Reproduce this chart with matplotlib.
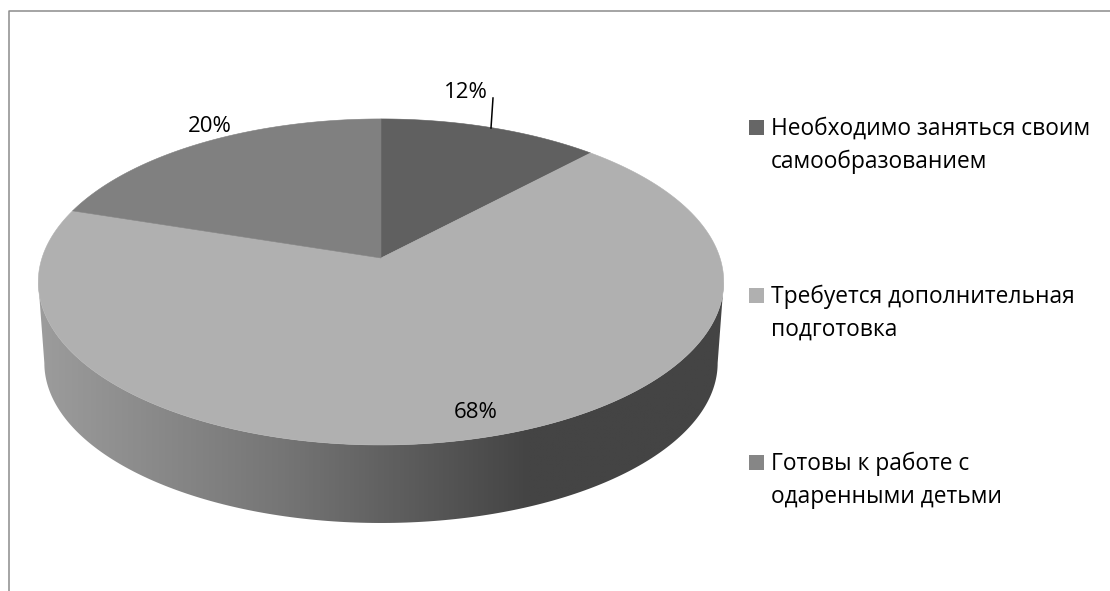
import numpy as np
import matplotlib
matplotlib.use("Agg")
import matplotlib.pyplot as plt
from matplotlib.patches import Polygon, Rectangle
from matplotlib.colors import LinearSegmentedColormap

categories = ["Необходимо заняться своим\nсамообразованием",
              "Требуется дополнительная\nподготовка",
              "Готовы к работе с\nодаренными детьми"]
values = [12, 68, 20]
labels = ["12%", "68%", "20%"]
colors = ["#606060", "#b0b0b0", "#808080"]
legend_colors = ["#666666", "#b0b0b0", "#868686"]

plt.rcParams["font.family"] = ["Open Sans", "DejaVu Sans"]
fig = plt.figure(figsize=(11.1, 5.91), dpi=100)
ax = fig.add_axes([0, 0, 1, 1])
ax.set_xlim(0, 1110)
ax.set_ylim(591, 0)
ax.axis("off")

K = 0.147
def project(theta, top=True, r=1.0):
    """Perspective view of a disc; theta clockwise from 12 o'clock."""
    u, v = r * np.sin(theta), r * np.cos(theta)
    w = 1 + K * v
    if top:
        return 381 + 339 * u / w, 258 - 159.5 * v / w
    return 381 + 333 * u / w, 339.4 - 156.6 * v / w

# side wall
t0 = np.arccos(-K)
front = np.linspace(t0, 2 * np.pi - t0, 200)
xb, yb = project(front, False)
xt, yt = project(front[::-1], True)
side = Polygon(np.r_[np.c_[xb, yb], np.c_[xt, yt]], closed=True, fc="none", ec="none")
ax.add_patch(side)
cmap = LinearSegmentedColormap.from_list(
    "side", [(0, "#9c9c9c"), (0.5, "#757575"), (1, "#444444")])
grad = np.clip((np.linspace(38, 724, 400) - 38) / (530 - 38), 0, 1)[None, :]
im = ax.imshow(grad, extent=(38, 724, 530, 280), aspect="auto", cmap=cmap,
               vmin=0, vmax=1, zorder=1, interpolation="bilinear")
im.set_clip_path(side)
ax.set_xlim(0, 1110)
ax.set_ylim(591, 0)

# top face
edges = np.cumsum([0] + values) / sum(values) * 2 * np.pi
for a, b, c in zip(edges[:-1], edges[1:], colors):
    th = np.linspace(a, b, 200)
    x, y = project(th)
    cx, cy = project(0.0, r=0.0)
    ax.add_patch(Polygon(np.r_[[[cx, cy]], np.c_[x, y]], closed=True,
                         fc=c, ec=c, lw=0.4, zorder=2))

# data labels
for s, px, py in zip(labels, (466, 476, 210), (98, 418, 132)):
    ax.text(px, py, s, ha="center", va="baseline", fontsize=16, color="black", zorder=3)
ax.plot([493, 491], [98, 128], color="black", lw=1.1, zorder=3)

# legend
for cat, c, py in zip(categories, legend_colors, (135, 303, 470)):
    ax.add_patch(Rectangle((749, py - 15), 15, 15, fc=c, ec="none"))
    first, second = cat.split("\n")
    ax.text(771, py, first, va="baseline", ha="left", fontsize=16.4, color="black")
    ax.text(771, py + 33, second, va="baseline", ha="left", fontsize=16.4, color="black")

# outer frame (top and left only)
ax.plot([8.5, 8.5, 1110], [591, 10.5, 10.5], color="#8c8c8c", lw=1.1, clip_on=False)

fig.savefig("out.png", dpi=100, facecolor="white")
